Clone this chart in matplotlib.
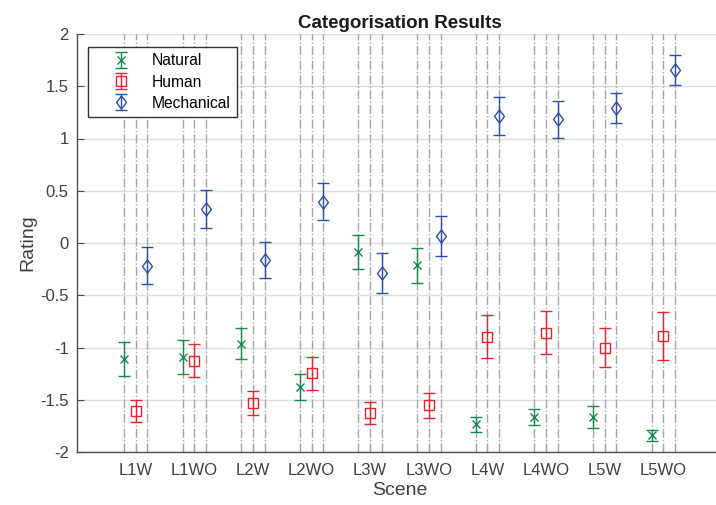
import matplotlib
matplotlib.use('Agg')
import matplotlib.pyplot as plt
import numpy as np

plt.rcParams['font.family'] = ['Liberation Sans', 'DejaVu Sans']

scenes = ['L1W', 'L1WO', 'L2W', 'L2WO', 'L3W', 'L3WO', 'L4W', 'L4WO', 'L5W', 'L5WO']

natural_mean = [-1.11, -1.09, -0.965, -1.375, -0.09, -0.215, -1.735, -1.665, -1.665, -1.84]
natural_err  = [0.16, 0.16, 0.148, 0.125, 0.163, 0.168, 0.072, 0.075, 0.105, 0.055]

human_mean = [-1.607, -1.125, -1.535, -1.248, -1.625, -1.553, -0.895, -0.858, -1.0, -0.89]
human_err  = [0.107, 0.155, 0.115, 0.158, 0.105, 0.118, 0.21, 0.208, 0.19, 0.225]

mech_mean = [-0.217, 0.321, -0.163, 0.393, -0.288, 0.07, 1.218, 1.183, 1.295, 1.652]
mech_err  = [0.175, 0.182, 0.171, 0.177, 0.192, 0.192, 0.182, 0.178, 0.145, 0.143]

# MATLAB-like diamond, a bit taller than wide
diamond = [(0, 1), (0.75, 0), (0, -1), (-0.75, 0), (0, 1)]

series = [
    ('Natural', natural_mean, natural_err, -0.2, '#17884a', 'x', 6),
    ('Human', human_mean, human_err, 0.0, '#e8232e', 's', 7),
    ('Mechanical', mech_mean, mech_err, 0.2, '#2a4fa6', diamond, 9.5),
]

fig = plt.figure(figsize=(7.16, 5.05), dpi=100)
ax = fig.add_axes([77 / 716, 53 / 505, 645 / 716, 418 / 505])

x = np.arange(1, len(scenes) + 1)

# dash-dot guide lines at every point position
for _, _, _, off, _, _, _ in series:
    for xi in x + off:
        ax.axvline(xi, color='#a6a6a6', linestyle='-.', linewidth=1.0, zorder=1)

for name, mean, err, off, col, mk, ms in series:
    ax.errorbar(x + off, mean, yerr=err, marker=mk, linestyle='none',
                color=col, ecolor=col, markersize=ms, markerfacecolor='none',
                markeredgewidth=1.0, elinewidth=1.0, capsize=4, capthick=1.0,
                label=name, zorder=3)

ax.set_xlim(0, 11)
ax.set_ylim(-2, 2)
ax.set_xticks(x)
ax.set_xticklabels(scenes)
ax.set_yticks(np.arange(-2, 2.01, 0.5))
ax.set_yticklabels(['-2', '-1.5', '-1', '-0.5', '0', '0.5', '1', '1.5', '2'])
ax.yaxis.grid(True, color='#dcdcdc', linewidth=1.0)
ax.set_axisbelow(True)

for s in ['top', 'right']:
    ax.spines[s].set_visible(False)
for s in ['left', 'bottom']:
    ax.spines[s].set_color('#4d4d4d')
    ax.spines[s].set_linewidth(1.0)

ax.tick_params(direction='in', length=5, colors='#4d4d4d', labelsize=12,
               labelcolor='#404040')
ax.tick_params(axis='x', pad=8)
ax.tick_params(axis='y', pad=6)

ax.set_xlabel('Scene', fontsize=14, color='#404040', labelpad=3)
ax.set_ylabel('Rating', fontsize=14, color='#404040', labelpad=3)
ax.set_title('Categorisation Results', fontsize=13.5, fontweight='bold',
             color='#1a1a1a', pad=4)

leg = ax.legend(loc='upper left', bbox_to_anchor=(11 / 645, 1 - 13 / 418),
                borderaxespad=0, fontsize=11.25, frameon=True, fancybox=False,
                handlelength=3.4, borderpad=0.4, labelspacing=0.4,
                handletextpad=0.3)
leg.get_frame().set_edgecolor('#333333')
leg.get_frame().set_linewidth(1.0)
leg.get_frame().set_alpha(1)

fig.savefig('out.png', dpi=100)
